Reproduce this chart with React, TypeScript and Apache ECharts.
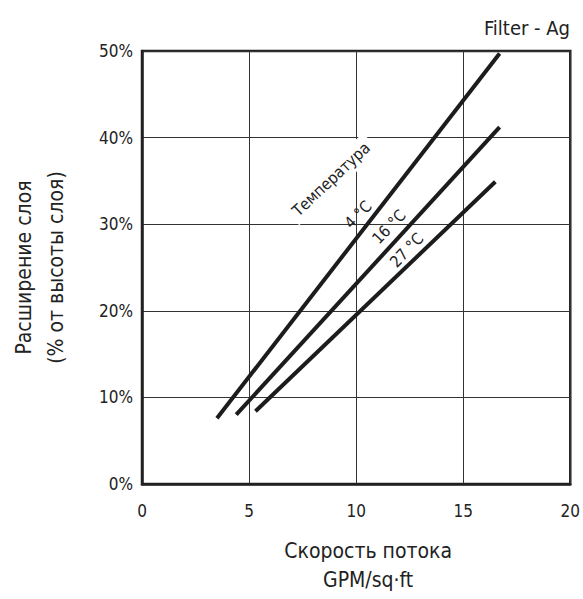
import React, { useEffect, useRef } from "react";
import * as echarts from "echarts";

const FONT = "'Liberation Sans Narrow', 'DejaVu Sans Condensed', 'Roboto Condensed', sans-serif";

const seriesNames = ["4 °C", "16 °C", "27 °C"];
const line4C: [number, number][] = [[3.5, 7.6], [16.7, 49.7]];
const line16C: [number, number][] = [[4.4, 8.0], [16.7, 41.2]];
const line27C: [number, number][] = [[5.3, 8.4], [16.5, 34.9]];

const xTitle = "Скорость потока\nGPM/sq·ft";
const yTitle = "Расширение слоя\n(% от высоты слоя)";
const chartTitle = "Filter - Ag";

// annotation text and its anchor in data coordinates
const annotationTexts = ["Температура", "4 °C", "16 °C", "27 °C"];
const annotationAnchors: [number, number][] = [[8.83, 35.2], [10.09, 31.1], [11.53, 29.7], [12.36, 27.0]];

export default function App() {
  const ref = useRef<HTMLDivElement>(null);
  useEffect(() => {
    if (!ref.current) return;
    const chart = echarts.init(ref.current, null, { renderer: "svg" });
    const lineColor = "#1c1c1c";
    const mkSeries = (name: string, data: [number, number][]) => ({
      name,
      type: "line",
      data,
      symbol: "none",
      lineStyle: { width: 4, color: lineColor, cap: "butt" },
      z: 3,
    });
    chart.setOption({
      animation: false,
      backgroundColor: "#ffffff",
      textStyle: { fontFamily: FONT },
      title: {
        text: chartTitle,
        right: 8,
        top: 13,
        textStyle: { fontFamily: FONT, fontSize: 20, fontWeight: "normal", color: "#222" },
      },
      grid: {
        left: 136,
        top: 51,
        width: 437,
        height: 437,
        show: true,
        borderColor: "#222",
        borderWidth: 2.5,
        backgroundColor: "transparent",
      },
      xAxis: {
        type: "value",
        min: 0,
        max: 20,
        interval: 5,
        name: xTitle,
        nameLocation: "middle",
        nameGap: 52,
        nameTextStyle: {
          fontFamily: FONT,
          fontSize: 21,
          color: "#222",
          lineHeight: 29,
          verticalAlign: "top",
          padding: [0, 0, 0, 24],
        },
        axisLine: { show: true, lineStyle: { color: "#222", width: 2.5 } },
        axisTick: { show: false },
        axisLabel: { fontFamily: FONT, fontSize: 17, color: "#222", margin: 18 },
        splitLine: { show: true, lineStyle: { color: "#333", width: 1 } },
      },
      yAxis: {
        type: "value",
        min: 0,
        max: 50,
        interval: 10,
        name: yTitle,
        nameLocation: "middle",
        nameGap: 70,
        nameRotate: 90,
        nameTextStyle: { fontFamily: FONT, fontSize: 21, color: "#222", lineHeight: 32 },
        axisLine: { show: true, lineStyle: { color: "#222", width: 2.5 } },
        axisTick: { show: false },
        axisLabel: { fontFamily: FONT, fontSize: 17, color: "#222", margin: 9, formatter: "{value}%" },
        splitLine: { show: true, lineStyle: { color: "#333", width: 1 } },
      },
      series: [
        mkSeries(seriesNames[0], line4C),
        mkSeries(seriesNames[1], line16C),
        mkSeries(seriesNames[2], line27C),
      ],
    });

    const rot = (46 * Math.PI) / 180;
    const graphics = annotationTexts.map((t, i) => {
      const p = chart.convertToPixel({ gridIndex: 0 }, annotationAnchors[i]) as number[];
      const isHeader = i === 0;
      return {
        type: "text",
        x: p[0],
        y: p[1],
        rotation: isHeader ? (43 * Math.PI) / 180 : rot,
        z: 1,
        style: {
          text: t,
          fontFamily: FONT,
          fontSize: 16,
          fill: "#222",
          align: "center",
          verticalAlign: "middle",
          backgroundColor: isHeader ? "#ffffff" : undefined,
          padding: isHeader ? [4, 5] : 0,
        },
      };
    });
    chart.setOption({ graphic: graphics });

    return () => chart.dispose();
  }, []);
  return (
    <div
      ref={ref}
      style={{ position: "fixed", left: 0, top: 0, width: 583, height: 599 }}
    />
  );
}
